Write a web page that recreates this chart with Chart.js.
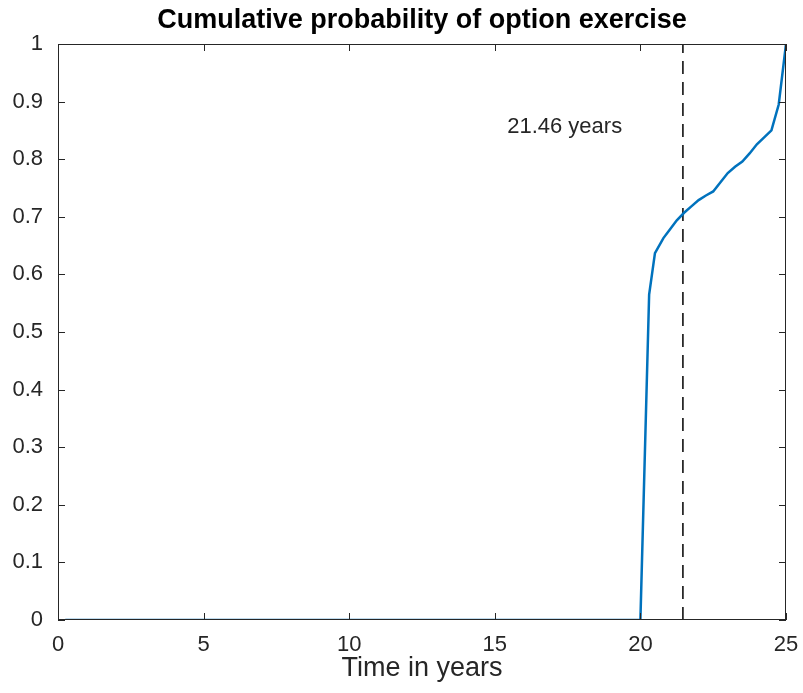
<!DOCTYPE html>
<html>
<head>
<meta charset="utf-8">
<script src="https://cdn.jsdelivr.net/npm/chart.js@4.4.0/dist/chart.umd.min.js"></script>
<style>
  body { margin: 0; background: #fff; }
  canvas { display: block; }
</style>
</head>
<body>
<canvas id="exerciseChart" width="803" height="693"></canvas>
<script>
// values
const timeYears = [0.25, 20, 20.3, 20.5, 20.79, 21, 21.25, 21.5, 21.75, 22, 22.25, 22.5, 22.75, 23, 23.25, 23.5, 23.75, 24, 24.25, 24.5, 24.75, 25];
const cumProb = [0, 0, 0.565, 0.637, 0.663, 0.677, 0.694, 0.707, 0.718, 0.729, 0.737, 0.744, 0.76, 0.776, 0.787, 0.796, 0.81, 0.826, 0.838, 0.85, 0.895, 1];
const meanExercise = 21.46;
const markerX = [meanExercise, meanExercise];
const markerY = [0, 1];
const labelText = '21.46 years';
const labelPos = [17.4, 0.856];

const fontFamily = '"Liberation Sans", Arial, Helvetica, sans-serif';
const axisColor = '#262626';

const curvePoints = timeYears.map((t, i) => ({ x: t, y: cumProb[i] }));
const markerPoints = markerX.map((t, i) => ({ x: t, y: markerY[i] }));

// box round the axes with inward ticks, MATLAB style
const boxPlugin = {
    id: 'boxPlugin',
    afterDraw(chart) {
        const ctx = chart.ctx;
        const a = chart.chartArea;
        const xs = chart.scales.x;
        const ys = chart.scales.y;
        const len = 7;
        ctx.save();
        ctx.strokeStyle = axisColor;
        ctx.lineWidth = 1;
        ctx.strokeRect(a.left + 0.5, a.top + 0.5, a.right - a.left - 1, a.bottom - a.top - 1);
        ctx.beginPath();
        xs.ticks.forEach(t => {
            const px = Math.round(xs.getPixelForValue(t.value)) + 0.5;
            ctx.moveTo(px, a.bottom);
            ctx.lineTo(px, a.bottom - len);
            ctx.moveTo(px, a.top);
            ctx.lineTo(px, a.top + len);
        });
        ys.ticks.forEach(t => {
            const py = Math.round(ys.getPixelForValue(t.value)) + 0.5;
            ctx.moveTo(a.left, py);
            ctx.lineTo(a.left + len, py);
            ctx.moveTo(a.right, py);
            ctx.lineTo(a.right - len, py);
        });
        ctx.stroke();

        ctx.fillStyle = axisColor;
        ctx.font = '22px ' + fontFamily;
        ctx.textAlign = 'center';
        ctx.textBaseline = 'middle';
        ctx.fillText(labelText, xs.getPixelForValue(labelPos[0]), ys.getPixelForValue(labelPos[1]));
        ctx.restore();
    }
};

new Chart(document.getElementById('exerciseChart'), {
    type: 'line',
    data: {
        datasets: [
            {
                data: curvePoints,
                borderColor: '#0072BD',
                borderWidth: 2.5,
                pointRadius: 0,
                tension: 0,
                fill: false
            },
            {
                data: markerPoints,
                borderColor: '#000000',
                borderWidth: 1.5,
                borderDash: [13, 8],
                pointRadius: 0,
                fill: false
            }
        ]
    },
    options: {
        responsive: false,
        animation: false,
        layout: {
            padding: { top: 0, right: 17, bottom: 0, left: 0 }
        },
        plugins: {
            legend: { display: false },
            tooltip: { enabled: false },
            title: {
                display: true,
                fullSize: false,
                text: 'Cumulative probability of option exercise',
                color: '#000000',
                font: { family: fontFamily, size: 27, weight: 'bold', lineHeight: 1.2 },
                padding: { top: 4, bottom: 7.6 }
            }
        },
        scales: {
            x: {
                type: 'linear',
                min: 0,
                max: 25,
                grid: { display: false, drawTicks: false },
                border: { display: false },
                ticks: {
                    stepSize: 5,
                    padding: 12,
                    color: axisColor,
                    font: { family: fontFamily, size: 22 },
                    maxRotation: 0
                },
                title: {
                    display: true,
                    text: 'Time in years',
                    color: axisColor,
                    font: { family: fontFamily, size: 27 },
                    padding: { top: 0, bottom: 8 }
                },
                afterFit(scale) {
                    scale.height = 73;
                    scale.paddingRight = 0;
                    scale.paddingLeft = 0;
                }
            },
            y: {
                min: 0,
                max: 1,
                grid: { display: false, drawTicks: false },
                border: { display: false },
                ticks: {
                    stepSize: 0.1,
                    padding: 15,
                    color: axisColor,
                    font: { family: fontFamily, size: 22 },
                    callback: v => String(+v.toFixed(1))
                },
                afterFit(scale) { scale.width = 58; }
            }
        }
    },
    plugins: [boxPlugin]
});
</script>
</body>
</html>
